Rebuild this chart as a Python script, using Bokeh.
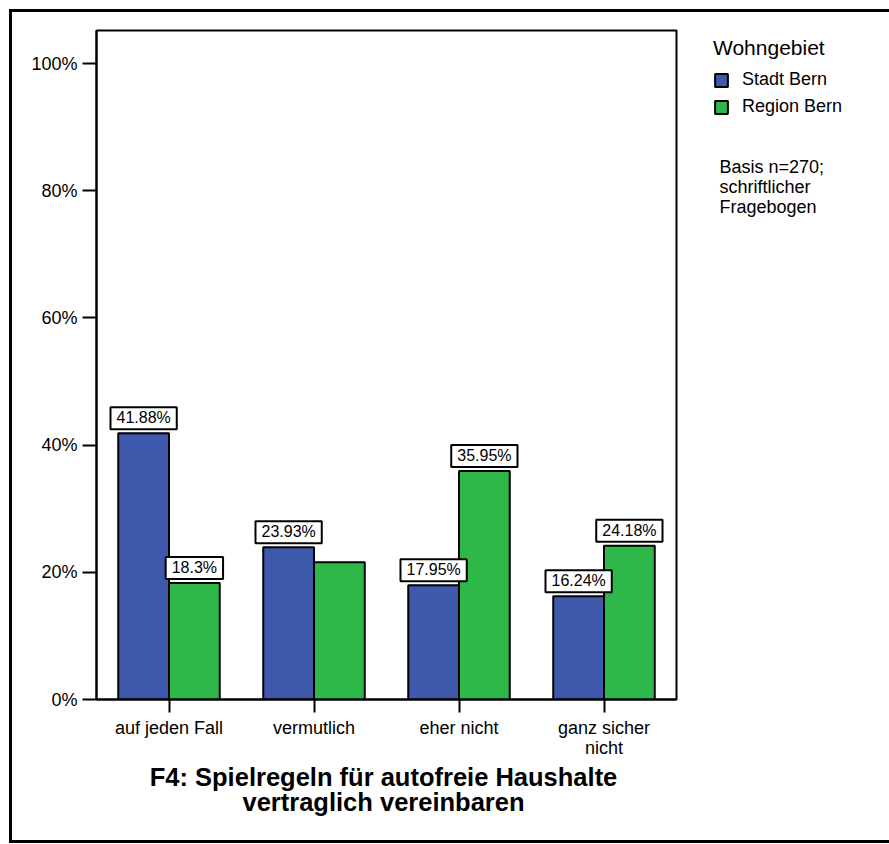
from bokeh.plotting import figure
from bokeh.layouts import row, column
from bokeh.models import (ColumnDataSource, FactorRange, Range1d, Label, Legend,
                          LegendItem, FixedTicker)
from bokeh.transform import dodge
from bokeh.core.properties import value
from bokeh.embed import file_html
from bokeh.resources import INLINE

# ---- data ----
categories = ["auf jeden Fall", "vermutlich", "eher nicht", "ganz sicher\nnicht"]
stadt_bern = [41.88, 23.93, 17.95, 16.24]
region_bern = [18.3, 21.57, 35.95, 24.18]
stadt_labels = ["41.88%", "23.93%", "17.95%", "16.24%"]
region_labels = ["18.3%", "", "35.95%", "24.18%"]
y_ticks = [0, 20, 40, 60, 80, 100]
y_tick_labels = ["0%", "20%", "40%", "60%", "80%", "100%"]
series_names = ["Stadt Bern", "Region Bern"]
legend_title = "Wohngebiet"
note_text = "Basis n=270;\nschriftlicher\nFragebogen"
title_lines = ["F4: Spielregeln für autofreie Haushalte", "vertraglich vereinbaren"]

BLUE = "#3e58ab"
GREEN = "#2eb84a"
FONT = "Liberation Sans"

src = ColumnDataSource(dict(cat=categories, stadt=stadt_bern, region=region_bern))

# ---------------- main chart ----------------
p = figure(x_range=FactorRange(factors=categories, range_padding=0),
           y_range=Range1d(0, 105.2),
           width=680, height=764, output_backend="svg", toolbar_location=None,
           min_border_left=96, min_border_right=4, min_border_top=30, min_border_bottom=65)

p.xgrid.visible = False
p.ygrid.visible = False
p.outline_line_color = "black"
p.outline_line_width = 2
p.outline_line_alpha = 1
p.background_fill_color = "white"
p.border_fill_color = None

p.vbar(x=dodge("cat", -0.175, range=p.x_range), top="stadt", width=0.35, source=src,
       fill_color=BLUE, line_color="black", line_width=2)
p.vbar(x=dodge("cat", 0.175, range=p.x_range), top="region", width=0.35, source=src,
       fill_color=GREEN, line_color="black", line_width=2)

def label_source(vals, labels):
    c, y, t = [], [], []
    for cat, v, l in zip(categories, vals, labels):
        if l:
            c.append(cat); y.append(v); t.append(l)
    return ColumnDataSource(dict(cat=c, y=y, text=t))

for vals, labels, off in [(stadt_bern, stadt_labels, -0.175), (region_bern, region_labels, 0.175)]:
    p.text(x=dodge("cat", off, range=p.x_range), y="y", text="text",
           source=label_source(vals, labels),
           text_align="center", text_baseline="bottom", y_offset=-4,
           text_font=value(FONT), text_font_size=value("16px"), text_color="black",
           background_fill_color="white", border_line_color="black", border_line_width=2,
           padding=dict(left=6, right=6, top=2, bottom=3))

for ax in (p.xaxis[0], p.yaxis[0]):
    ax.axis_line_color = "black"
    ax.axis_line_width = 2
    ax.major_tick_line_color = "black"
    ax.major_tick_line_width = 2
    ax.major_tick_in = 0
    ax.minor_tick_line_color = None
    ax.major_label_text_font = FONT
    ax.major_label_text_font_size = "18px"
    ax.major_label_text_color = "black"

p.yaxis.ticker = FixedTicker(ticks=y_ticks)
p.yaxis.major_label_overrides = {t: l for t, l in zip(y_ticks, y_tick_labels)}
p.yaxis.major_tick_out = 14
p.yaxis.major_label_standoff = 5
p.xaxis.major_tick_out = 13
p.xaxis.major_label_standoff = 5
p.xaxis.major_label_text_line_height = 1.0

# ---------------- legend + note panel ----------------
p2 = figure(width=209, height=844, output_backend="svg", toolbar_location=None,
            x_range=FactorRange(factors=categories), y_range=Range1d(0, 105.2),
            x_axis_type=None, y_axis_type=None, min_border=0)
p2.grid.visible = False
p2.outline_line_color = None
p2.background_fill_color = None
p2.border_fill_color = None

# legend swatch renderers: same series, hidden (only their legend swatches show)
s1 = p2.vbar(x=dodge("cat", -0.175, range=p2.x_range), top="stadt", width=0.35, source=src,
             fill_color=BLUE, line_color="black", line_width=2, visible=False)
s2 = p2.vbar(x=dodge("cat", 0.175, range=p2.x_range), top="region", width=0.35, source=src,
             fill_color=GREEN, line_color="black", line_width=2, visible=False)

legend = Legend(items=[LegendItem(label=series_names[0], renderers=[s1]),
                       LegendItem(label=series_names[1], renderers=[s2])],
                location=(33, 727), title=legend_title,
                title_text_font=FONT, title_text_font_size="21px", title_text_font_style="normal",
                title_text_color="black", title_standoff=9,
                label_text_font=FONT, label_text_font_size="18px", label_text_color="black",
                label_height=21, glyph_width=16, glyph_height=16, label_standoff=13, spacing=6,
                padding=0, margin=0, border_line_color=None, background_fill_color=None,
                click_policy="none", inactive_fill_alpha=0)
p2.add_layout(legend)

p2.add_layout(Label(x=39, y=688, x_units="screen", y_units="screen", text=note_text,
                    text_align="left", text_baseline="top", text_font=FONT,
                    text_font_size="18px", text_line_height=1.0, text_color="black"))

# ---------------- title panel ----------------
p3 = figure(width=680, height=80, output_backend="svg", toolbar_location=None,
            x_range=Range1d(0, 1), y_range=Range1d(0, 1),
            x_axis_type=None, y_axis_type=None, min_border=0)
p3.grid.visible = False
p3.outline_line_color = None
p3.background_fill_color = None
p3.border_fill_color = None
for txt, yy in zip(title_lines, [68, 43]):
    p3.add_layout(Label(x=287, y=yy, x_units="screen", y_units="screen", text=txt,
                        text_align="center", text_baseline="alphabetic", text_font=FONT,
                        text_font_size="25.5px", text_font_style="bold", text_color="black"))

frame_css = ("inset 9px 9px 0 0 white, inset 0 -1px 0 0 white, "
             "inset 12px 12px 0 0 black, inset 0 -4px 0 0 black")
root = row(column(p, p3, spacing=0), p2, spacing=0,
           styles={"box-shadow": frame_css})

open("out.html", "w").write(file_html(root, INLINE))
